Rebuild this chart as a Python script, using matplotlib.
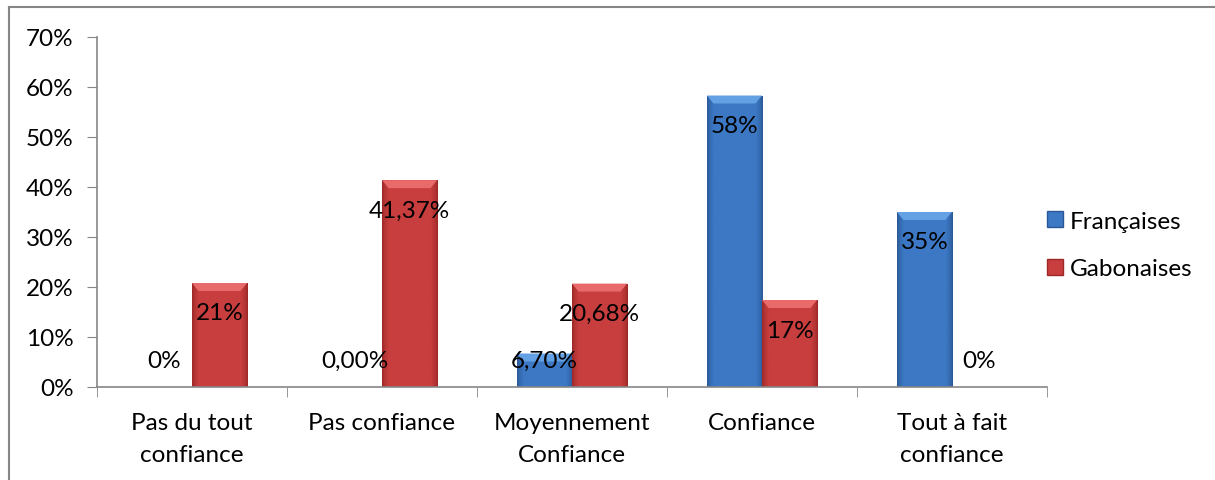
import matplotlib
matplotlib.use("Agg")
import matplotlib.pyplot as plt
import numpy as np
from matplotlib.lines import Line2D
from matplotlib.patches import Patch, Polygon

categories = ["Pas du tout\nconfiance", "Pas confiance", "Moyennement\nConfiance", "Confiance", "Tout à fait\nconfiance"]
series_names = ["Françaises", "Gabonaises"]
francaises = [0.0, 0.0, 6.70, 58.3, 35.0]
gabonaises = [20.8, 41.37, 20.68, 17.4, 0.0]
fr_labels = ["0%", "0,00%", "6,70%", "58%", "35%"]
ga_labels = ["21%", "41,37%", "20,68%", "17%", "0%"]
yticks = [0, 10, 20, 30, 40, 50, 60, 70]

plt.rcParams['font.family'] = ['Lato', 'DejaVu Sans']
FS = 17.5

fig = plt.figure(figsize=(12.15, 4.81), dpi=100)
ax = fig.add_axes([97/1215, 1-388/481, 950/1215, 350/481])

x = np.arange(len(categories))
w = 0.29
styles = [
    dict(body=np.array([0x3c, 0x78, 0xc4]) / 255, edge=np.array([0x2a, 0x58, 0x96]) / 255, top="#64a0e4"),
    dict(body=np.array([0xc8, 0x3e, 0x3e]) / 255, edge=np.array([0x9c, 0x28, 0x28]) / 255, top="#e86a6a"),
]
bars_f = ax.bar(x - w/2, francaises, w, color="#3c78c4", edgecolor="none", label=series_names[0])
bars_g = ax.bar(x + w/2, gabonaises, w, color="#c83e3e", edgecolor="none", label=series_names[1])

t = np.linspace(0, 1, 100)
d = np.minimum(t, 1 - t)
prof = np.clip(d / 0.12, 0, 1) ** 0.7
bev = 1.6
for bars, st in zip([bars_f, bars_g], styles):
    grad = st['edge'][None, :] + (st['body'] - st['edge'])[None, :] * prof[:, None]
    img = grad[None, :, :]
    for p in bars:
        h = p.get_height()
        if h <= 0:
            continue
        x0 = p.get_x()
        bw = p.get_width()
        im = ax.imshow(img, extent=[x0, x0 + bw, 0, h], aspect='auto',
                       interpolation='bilinear', zorder=2)
        im.set_clip_path(p)
        bh = min(bev, h * 0.5)
        ax.add_patch(Polygon([[x0, h], [x0 + bw, h], [x0 + bw * 0.88, h - bh], [x0 + bw * 0.12, h - bh]],
                             closed=True, facecolor=st['top'], edgecolor='none', zorder=3))

ax.set_xlim(-0.5, len(categories) - 0.5)
ax.set_ylim(0, 70)
ax.set_yticks(yticks)
ax.set_yticklabels([f"{v}%" for v in yticks], fontsize=FS)
ax.set_xticks(x)
ax.set_xticklabels(categories, fontsize=FS, linespacing=1.62)
ax.set_xticks(np.arange(len(categories) + 1) - 0.5, minor=True)
ax.tick_params(axis='x', which='major', length=0, pad=18)
ax.tick_params(axis='x', which='minor', length=7, color='#868686', direction='out')
ax.tick_params(axis='y', length=7, color='#868686', direction='out', pad=10)
for s in ['top', 'right']:
    ax.spines[s].set_visible(False)
for s in ['left', 'bottom']:
    ax.spines[s].set_color('#868686')
    ax.spines[s].set_linewidth(1.2)

def lab_y(v):
    return max(v - 6.0, 5.4)

for i in range(len(categories)):
    ax.text(x[i] - w/2, lab_y(francaises[i]), fr_labels[i], ha='center', va='center', fontsize=FS, zorder=5)
    ax.text(x[i] + w/2, lab_y(gabonaises[i]), ga_labels[i], ha='center', va='center', fontsize=FS, zorder=5)

handles = [Patch(facecolor="#3c78c4", edgecolor="#2a5896"), Patch(facecolor="#c83e3e", edgecolor="#9c2828")]
fig.legend(handles, series_names, loc='center left', bbox_to_anchor=(1025/1215, 1-246/481),
           frameon=False, fontsize=FS, handlelength=0.65, handleheight=0.65, handletextpad=0.3,
           labelspacing=1.1)

fig.add_artist(Line2D([9/1215, 9/1215], [0, 1-8/481], color='#868686', lw=1.5, transform=fig.transFigure))
fig.add_artist(Line2D([9/1215, 1], [1-8/481, 1-8/481], color='#868686', lw=1.5, transform=fig.transFigure))

fig.savefig("out.png", dpi=100)
